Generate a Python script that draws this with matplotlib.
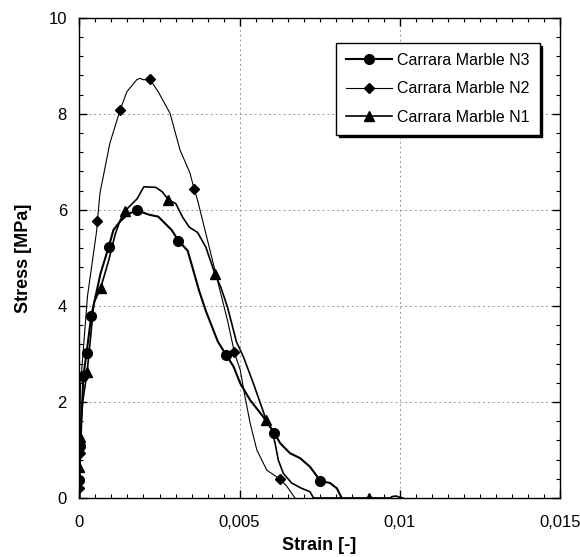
import matplotlib
matplotlib.use("Agg")
import matplotlib.pyplot as plt
from matplotlib.ticker import MultipleLocator, FuncFormatter

# Carrara Marble N3 (circles)
n3_strain = [0.0, 0.0, 0.00003, 0.00012, 0.00022, 0.00037, 0.00050, 0.00066, 0.00091,
             0.00106, 0.00127, 0.00153, 0.00180, 0.00217, 0.00246, 0.00288, 0.00309,
             0.00338, 0.00353, 0.00374, 0.00395, 0.00432, 0.00458, 0.00481, 0.00502,
             0.00533, 0.00574, 0.00609, 0.00627, 0.00658, 0.00689, 0.00720, 0.00752,
             0.00783, 0.00804, 0.00819]
n3_stress = [0.0, 0.38, 1.08, 2.53, 3.01, 3.80, 4.19, 4.68, 5.22,
             5.58, 5.76, 5.92, 5.99, 5.90, 5.86, 5.58, 5.36,
             5.15, 4.80, 4.31, 3.89, 3.26, 2.98, 2.74, 2.39,
             2.04, 1.69, 1.35, 1.14, 0.93, 0.83, 0.65, 0.36,
             0.31, 0.20, 0.0]
n3_marks = [1, 2, 3, 4, 5, 8, 12, 16, 22, 27, 32]

# Carrara Marble N2 (diamonds)
n2_strain = [0.0, 0.0, 0.00001, 0.00003, 0.00025, 0.00054, 0.00056, 0.00064, 0.00095,
             0.00127, 0.00148, 0.00179, 0.00189, 0.00199, 0.00220, 0.00246, 0.00283,
             0.00314, 0.00345, 0.00358, 0.00369, 0.00395, 0.00421, 0.00442, 0.00463,
             0.00484, 0.00502, 0.00517, 0.00533, 0.00554, 0.00585, 0.00627, 0.00648,
             0.00673]
n2_stress = [0.0, 0.20, 0.93, 2.32, 4.20, 5.58, 5.76, 6.35, 7.39,
             8.08, 8.46, 8.71, 8.74, 8.71, 8.72, 8.46, 8.01,
             7.25, 6.77, 6.44, 6.20, 5.50, 4.80, 4.24, 3.68,
             3.03, 2.67, 2.11, 1.56, 1.00, 0.58, 0.39, 0.24,
             0.0]
n2_marks = [1, 2, 6, 9, 14, 19, 25, 31]

# Carrara Marble N1 (triangles)
n1_strain = [0.0, 0.0, 0.00001, 0.00010, 0.00024, 0.00035, 0.00045, 0.00066, 0.00091,
             0.00112, 0.00127, 0.00141, 0.00159, 0.00180, 0.00201, 0.00238, 0.00258,
             0.00278, 0.00301, 0.00322, 0.00343, 0.00369, 0.00395, 0.00423, 0.00442,
             0.00463, 0.00490, 0.00512, 0.00543, 0.00583, 0.00601, 0.00611, 0.00621,
             0.00637, 0.00663, 0.00694, 0.00720, 0.00731, 0.00905, 0.00970, 0.00977,
             0.00989, 0.01002, 0.01010]
n1_stress = [0.0, 0.65, 1.28, 2.00, 2.63, 3.36, 4.06, 4.37, 4.94,
             5.50, 5.78, 5.97, 6.09, 6.23, 6.48, 6.47, 6.38,
             6.21, 6.13, 5.85, 5.64, 5.53, 5.22, 4.67, 4.38,
             3.96, 3.26, 2.94, 2.39, 1.63, 1.42, 1.14, 0.79,
             0.51, 0.31, 0.20, 0.13, 0.0, 0.0, 0.0, 0.03,
             0.04, 0.01, 0.0]
n1_marks = [1, 2, 4, 7, 11, 17, 23, 29, 38]

plt.rcParams['font.family'] = ['Liberation Sans', 'DejaVu Sans']

fig = plt.figure(figsize=(5.8, 5.57), dpi=100)
ax = fig.add_axes([0.137, 0.106, 0.828, 0.862])

ax.plot(n3_strain, n3_stress, color='black', lw=1.5, marker='o', ms=7,
        markevery=n3_marks, label='Carrara Marble N3', zorder=3)
ax.plot(n2_strain, n2_stress, color='black', lw=0.8, marker='D', ms=5,
        markevery=n2_marks, label='Carrara Marble N2', zorder=3)
ax.plot(n1_strain, n1_stress, color='black', lw=1.2, marker='^', ms=7,
        markevery=n1_marks, label='Carrara Marble N1', zorder=3)

ax.set_xlim(0, 0.015)
ax.set_ylim(0, 10)
ax.xaxis.set_major_locator(MultipleLocator(0.005))
ax.xaxis.set_minor_locator(MultipleLocator(0.0005))
ax.yaxis.set_major_locator(MultipleLocator(2))
ax.yaxis.set_minor_locator(MultipleLocator(0.4))

def comma_fmt(v, pos):
    s = f"{v:.3f}".rstrip('0').rstrip('.')
    return s.replace('.', ',')

ax.xaxis.set_major_formatter(FuncFormatter(comma_fmt))
ax.yaxis.set_major_formatter(FuncFormatter(lambda v, p: f"{v:.0f}"))

ax.tick_params(which='both', direction='in', top=True, right=True, labelsize=12)
ax.tick_params(axis='x', pad=12)
ax.tick_params(axis='y', pad=9)
ax.tick_params(which='major', length=6, width=1)
ax.tick_params(which='minor', length=3, width=0.8)
for sp in ax.spines.values():
    sp.set_linewidth(1.0)

ax.grid(True, which='major', color='#999999', linestyle=(0, (2, 3)), linewidth=0.7)
ax.set_axisbelow(True)

ax.set_xlabel('Strain [-]', fontsize=13, fontweight='bold', labelpad=5)
ax.set_ylabel('Stress [MPa]', fontsize=13, fontweight='bold', labelpad=12)

leg = ax.legend(loc='upper right', bbox_to_anchor=(0.958, 0.947), fancybox=False,
                shadow={'color': 'black', 'alpha': 1}, edgecolor='black', framealpha=1,
                fontsize=11.5, handlelength=2.9, handletextpad=0.35, borderpad=0.6,
                labelspacing=0.85, borderaxespad=0.0)
leg.get_frame().set_linewidth(1.0)

fig.savefig('out.png', dpi=100)
